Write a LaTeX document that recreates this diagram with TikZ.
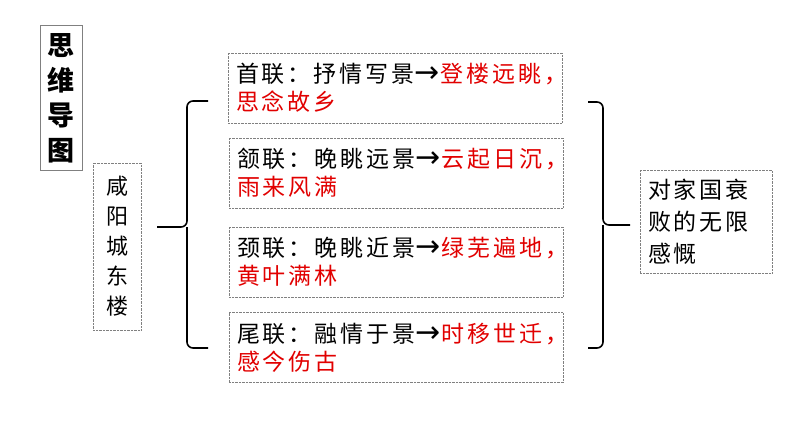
\documentclass[tikz,border=0pt]{standalone}
\usepackage{fontspec}
\newfontfamily\cjk[LetterSpace=13]{Noto Sans CJK SC}
\newfontfamily\cjkplain{Noto Sans CJK SC}
\newfontfamily\arrowfont{DejaVu Sans}
\definecolor{poemred}{RGB}{225,0,0}
\newcommand{\hl}[1]{\textcolor{poemred}{#1}}
\newcommand{\toarrow}{{\arrowfont\fontsize{30pt}{28pt}\selectfont →}}

\begin{document}
\begin{tikzpicture}[x=1pt,y=-1pt,
    couplet/.style ={draw=gray, densely dotted, text width=318pt, inner xsep=8pt,
      minimum height=70pt, align=left, font=\cjk\fontsize{23pt}{28pt}\selectfont},
    column/.style ={draw=gray, densely dotted, inner sep=0pt, align=center,
      font=\cjkplain\fontsize{22pt}{30pt}\selectfont},
    brace/.style ={line width=1.6pt, rounded corners=6pt}]
   \useasboundingbox (0,0) rectangle (794,447);
   \node[column, solid, minimum width=42pt, minimum height=145pt,
     font=\cjkplain\bfseries\fontsize{27pt}{35pt}\selectfont] (title) at (61,98) {思\\维\\导\\图};
   \node[column, minimum width=48pt, minimum height=167pt] (poem) at (117,246.5) {咸\\阳\\城\\东\\楼};
   \node[couplet] (shou) at (395,88) {首联：抒情写景\toarrow\hl{登楼远眺，}\\\hl{思念故乡}};
   \node[couplet] (han) at (396,173) {颔联：晚眺远景\toarrow\hl{云起日沉，}\\\hl{雨来风满}};
   \node[couplet] (jing) at (396,262) {颈联：晚眺近景\toarrow\hl{绿芜遍地，}\\\hl{黄叶满林}};
   \node[couplet] (wei) at (396,347.5) {尾联：融情于景\toarrow\hl{时移世迁，}\\\hl{感今伤古}};
   \node[couplet, text width=116pt, minimum height=103pt,
     font=\cjk\fontsize{23pt}{32pt}\selectfont] (theme) at (706,221.5) {对家国衰\\败的无限\\感慨};
   \coordinate (lin) at (157,227);
   \coordinate (ltop) at (208,101);
   \coordinate (lbot) at (208,348);
   \coordinate (rout) at (630,225);
   \coordinate (rtop) at (588,102);
   \coordinate (rbot) at (588,348);
   \draw[brace] (ltop) -- (187,101) -- (187,227) -- (lin);
   \draw[brace] (lbot) -- (187,348) -- (187,227);
   \draw[brace] (rtop) -- (603,102) -- (603,225) -- (rout);
   \draw[brace] (rbot) -- (603,348) -- (603,225);
 \end{tikzpicture}
\end{document}
